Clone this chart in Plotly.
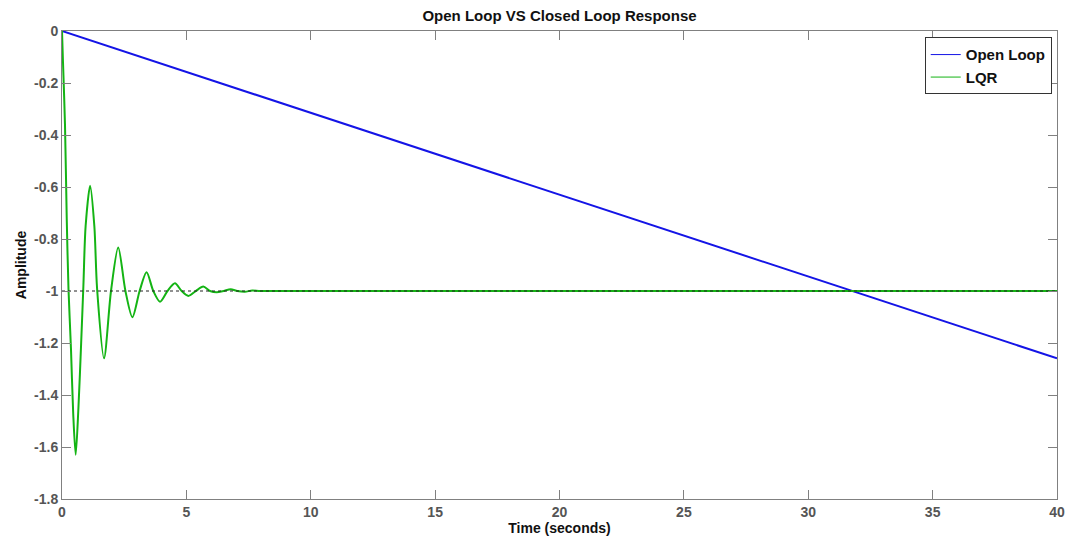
import plotly.graph_objects as go

# Data
open_loop_t = [0, 40]
open_loop_y = [0, -1.259]

lqr_t = [0, 0.04, 0.12, 0.19, 0.26, 0.36, 0.45, 0.55, 0.66, 0.77, 0.86, 0.95, 1.13,
         1.30, 1.41, 1.69, 1.97, 2.26, 2.55, 2.83, 3.12, 3.40, 3.67, 3.94, 4.24,
         4.54, 4.81, 5.08, 5.38, 5.68, 5.95, 6.22, 6.50, 6.78, 7.05, 7.35, 7.65, 8.0, 40]
lqr_y = [0, -0.12, -0.36, -0.72, -0.99, -1.22, -1.47, -1.63, -1.45, -1.2, -0.98, -0.75, -0.595,
         -0.75, -0.99, -1.259, -1.0, -0.833, -1.0, -1.101, -1.0, -0.928, -1.0, -1.041, -1.0,
         -0.970, -1.0, -1.019, -1.0, -0.983, -1.0, -1.005, -1.0, -0.993, -1.0, -1.003, -0.998, -1.0, -1.0]

ref_t = [0, 40]
ref_y = [-1, -1]

y_ticks = [0, -0.2, -0.4, -0.6, -0.8, -1, -1.2, -1.4, -1.6, -1.8]
y_labels = ["0", "-0.2", "-0.4", "-0.6", "-0.8", "-1", "-1.2", "-1.4", "-1.6", "-1.8"]
x_ticks = [0, 5, 10, 15, 20, 25, 30, 35, 40]
x_labels = ["0", "5", "10", "15", "20", "25", "30", "35", "40"]

BLUE = "#1414e6"
GREEN = "#14b414"
FONT = "Liberation Sans, Arial"

W, H = 1068, 541

fig = go.Figure()
fig.add_trace(go.Scatter(x=open_loop_t, y=open_loop_y, mode="lines", showlegend=False,
                         line=dict(color=BLUE, width=2)))
fig.add_trace(go.Scatter(x=lqr_t, y=lqr_y, mode="lines", showlegend=False,
                         line=dict(color=GREEN, width=2, shape="spline", smoothing=0.8)))
fig.add_trace(go.Scatter(x=ref_t, y=ref_y, mode="lines", showlegend=False,
                         line=dict(color="#222222", width=1, dash="3px,3px")))
# legend entries (thin sample lines, as in the reference)
fig.add_trace(go.Scatter(x=[None], y=[None], mode="lines", name="Open Loop",
                         line=dict(color=BLUE, width=1)))
fig.add_trace(go.Scatter(x=[None], y=[None], mode="lines", name="LQR",
                         line=dict(color=GREEN, width=1)))

axis_common = dict(showgrid=False, zeroline=False, showline=True, linecolor="#808080",
                   linewidth=1, mirror="ticks", ticks="inside", ticklen=9, tickcolor="#808080",
                   automargin=False, ticklabeloverflow="allow",
                   tickfont=dict(family=FONT, size=14, color="#555555", weight="bold"))

fig.update_xaxes(range=[0, 40], tickvals=x_ticks, ticktext=x_labels, ticklabelstandoff=0,
                 title=dict(text="Time (seconds)", standoff=2,
                            font=dict(family=FONT, size=14, color="#111111", weight="bold")),
                 **axis_common)
fig.update_yaxes(range=[-1.8, 0], tickvals=y_ticks, ticktext=y_labels, ticklabelstandoff=0,
                 title=dict(text="Amplitude", standoff=4,
                            font=dict(family=FONT, size=14, color="#111111", weight="bold")),
                 **axis_common)

fig.update_layout(
    width=W, height=H,
    margin=dict(l=62, r=11, t=31, b=42),
    paper_bgcolor="white", plot_bgcolor="white",
    title=dict(text="Open Loop VS Closed Loop Response", x=0.5, xanchor="center",
               xref="paper", yref="container", y=1 - 16 / H, yanchor="middle",
               automargin=False,
               font=dict(family=FONT, size=15, color="#111111", weight="bold")),
    legend=dict(x=0.9947, xanchor="right", y=0.9865, yanchor="top",
                bgcolor="white", bordercolor="#333333", borderwidth=1,
                font=dict(family=FONT, size=15, color="#111111", weight="bold"),
                tracegroupgap=0, itemwidth=30),
    showlegend=True,
)

# remove the default page margin so the figure fills the window exactly
fig.write_html("out.html", config={"displayModeBar": False},
               post_script="document.body.style.margin='0';document.body.style.overflow='hidden';")
